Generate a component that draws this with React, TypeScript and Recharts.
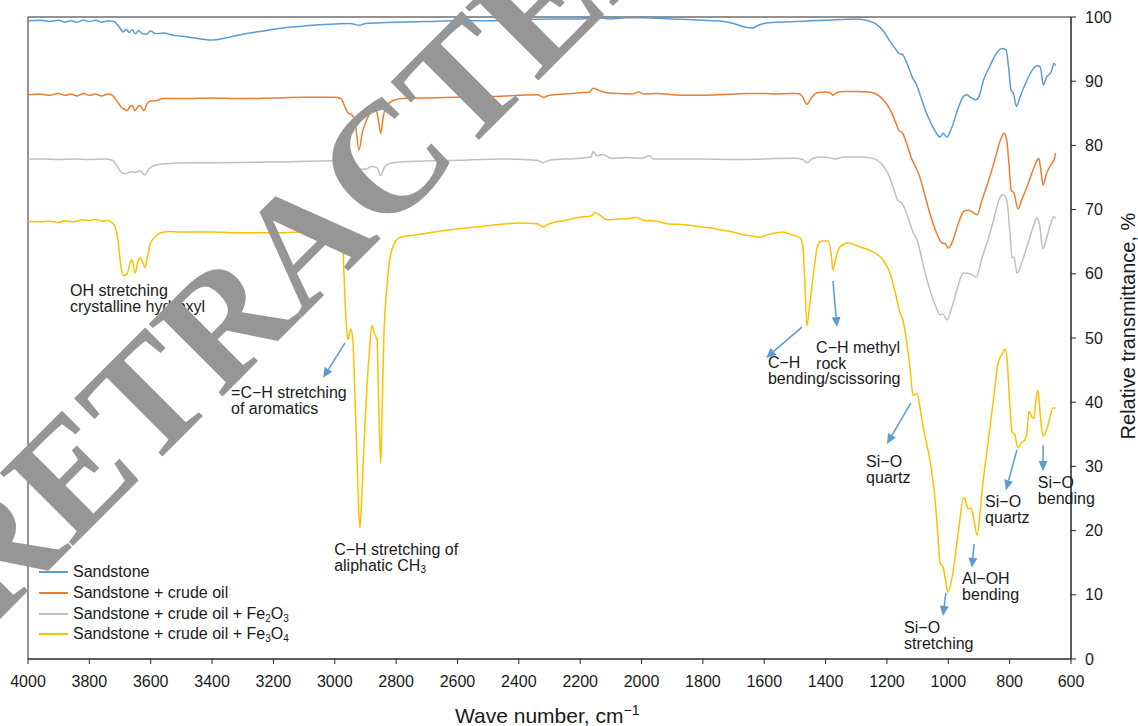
import React from 'react';
import {
  LineChart,
  Line,
  XAxis,
  YAxis,
  ReferenceArea,
  ReferenceLine,
  ReferenceDot,
  Legend
} from 'recharts';

type Pt = [number, number];

const FONT = '"Liberation Sans", Arial, sans-serif';
const INK = '#1a1a1a';
const ARROW = '#5B9BD5';

const xTicks = [4000, 3800, 3600, 3400, 3200, 3000, 2800, 2600, 2400, 2200, 2000, 1800, 1600, 1400, 1200, 1000, 800, 600];
const yTicks = [0, 10, 20, 30, 40, 50, 60, 70, 80, 90, 100];

// wave number (cm-1), relative transmittance (%)
const sandstone: Pt[] = [
  [4000, 99.4], [3960, 99.5], [3930, 99.3], [3900, 99.5], [3880, 99.2], [3860, 99.4], [3840, 99.2],
  [3820, 99.5], [3800, 99.3], [3780, 99.5], [3760, 99.2], [3740, 99.4], [3720, 99.3], [3705, 98.6],
  [3690, 97.7], [3680, 98.1], [3670, 97.6], [3660, 98.0], [3650, 97.4], [3640, 97.9], [3630, 97.5],
  [3615, 97.3], [3600, 97.8], [3585, 97.4], [3560, 97.5], [3520, 97.1], [3480, 96.9], [3440, 96.6],
  [3410, 96.4], [3380, 96.5], [3340, 96.9], [3300, 97.3], [3250, 97.7], [3200, 98.1], [3150, 98.4],
  [3100, 98.6], [3050, 98.8], [3000, 98.9], [2950, 99.0], [2920, 98.7], [2900, 99.0], [2850, 99.1],
  [2800, 99.2], [2700, 99.3], [2600, 99.4], [2500, 99.4], [2400, 99.6], [2300, 99.7], [2200, 99.7],
  [2150, 99.9], [2100, 99.7], [2050, 99.9], [2000, 99.9], [1950, 99.8], [1900, 99.7], [1850, 99.6],
  [1800, 99.5], [1750, 99.4], [1700, 99.0], [1660, 98.4], [1640, 98.3], [1620, 98.7], [1600, 99.0],
  [1550, 99.2], [1500, 99.3], [1450, 99.4], [1400, 99.5], [1350, 99.6], [1300, 99.7], [1260, 99.4],
  [1235, 98.9], [1210, 97.7], [1190, 96.2], [1170, 94.9], [1160, 94.3], [1150, 94.2], [1135, 92.8],
  [1115, 90.4], [1105, 89.6], [1090, 87.6], [1075, 85.5], [1055, 83.3], [1040, 82.0], [1027, 81.3],
  [1017, 81.9], [1005, 81.3], [990, 82.6], [970, 85.5], [955, 87.3], [940, 87.9], [925, 87.4],
  [910, 87.1], [900, 87.6], [885, 90.2], [865, 92.3], [845, 94.2], [825, 95.1], [812, 94.9],
  [803, 92.0], [796, 88.7], [787, 88.0], [778, 86.1], [765, 87.7], [745, 90.0], [725, 91.8],
  [710, 92.4], [700, 92.2], [690, 89.4], [680, 90.6], [665, 91.4], [655, 92.8], [650, 92.4]
];

const crudeOil: Pt[] = [
  [4000, 87.9], [3960, 88.0], [3930, 87.8], [3900, 88.1], [3880, 87.8], [3860, 88.0], [3840, 87.7],
  [3820, 88.1], [3800, 87.8], [3780, 88.0], [3760, 87.7], [3740, 88.0], [3725, 87.8], [3710, 86.9],
  [3695, 85.9], [3685, 85.6], [3677, 85.4], [3668, 86.0], [3660, 86.2], [3651, 85.4], [3642, 86.0],
  [3635, 86.2], [3622, 85.4], [3612, 86.5], [3600, 86.9], [3580, 87.0], [3560, 87.3], [3500, 87.3],
  [3400, 87.4], [3300, 87.3], [3200, 87.4], [3100, 87.5], [3000, 87.5], [2980, 87.3], [2965, 85.8],
  [2955, 85.0], [2945, 84.8], [2935, 84.0], [2921, 79.3], [2910, 82.0], [2900, 83.5], [2885, 85.0],
  [2866, 85.6], [2858, 84.0], [2850, 81.9], [2842, 84.5], [2830, 86.2], [2810, 87.0], [2780, 87.3],
  [2700, 87.4], [2600, 87.5], [2500, 87.6], [2400, 87.8], [2340, 87.9], [2320, 87.5], [2300, 87.8],
  [2250, 88.0], [2200, 88.2], [2170, 88.3], [2158, 88.9], [2140, 88.6], [2115, 88.2], [2080, 88.1],
  [2030, 88.0], [2010, 88.3], [1990, 88.0], [1950, 88.1], [1900, 87.9], [1850, 87.8], [1800, 87.8],
  [1750, 87.9], [1700, 88.0], [1650, 88.1], [1600, 88.1], [1560, 88.0], [1520, 88.1], [1490, 88.1],
  [1475, 87.6], [1461, 86.4], [1445, 87.5], [1428, 88.2], [1400, 88.3], [1385, 88.2], [1376, 87.8],
  [1365, 88.2], [1340, 88.4], [1300, 88.4], [1260, 88.3], [1235, 88.0], [1210, 87.0], [1190, 85.6],
  [1175, 84.0], [1160, 82.3], [1150, 82.0], [1135, 80.2], [1120, 78.0], [1108, 76.8], [1095, 75.4],
  [1075, 72.0], [1055, 68.6], [1035, 66.0], [1020, 64.8], [1010, 64.7], [1000, 64.0], [985, 65.2],
  [965, 68.2], [950, 69.7], [936, 69.9], [920, 69.6], [906, 69.2], [890, 71.5], [870, 74.3],
  [850, 77.5], [830, 80.8], [818, 81.9], [810, 81.0], [802, 77.0], [795, 73.0], [786, 72.6],
  [773, 70.1], [760, 71.6], [740, 74.0], [725, 76.0], [712, 77.5], [705, 78.0], [698, 76.0],
  [691, 73.8], [680, 75.6], [665, 77.0], [655, 77.8], [650, 78.8]
];

const fe2o3: Pt[] = [
  [4000, 77.9], [3950, 77.9], [3900, 77.8], [3850, 77.9], [3800, 77.8], [3750, 77.9], [3725, 77.7],
  [3710, 76.8], [3695, 75.8], [3680, 75.6], [3665, 75.9], [3650, 75.8], [3635, 76.0], [3619, 75.4],
  [3605, 76.4], [3580, 77.0], [3540, 77.2], [3400, 77.3], [3200, 77.4], [3000, 77.6], [2960, 77.5],
  [2935, 76.8], [2920, 76.3], [2900, 76.3], [2880, 76.7], [2862, 76.5], [2850, 75.3], [2838, 76.6],
  [2820, 77.2], [2750, 77.5], [2600, 77.7], [2450, 77.9], [2340, 77.7], [2320, 77.3], [2300, 77.7],
  [2200, 78.0], [2165, 78.2], [2158, 79.0], [2145, 78.4], [2126, 78.6], [2100, 78.0], [2050, 78.1],
  [2000, 78.0], [1975, 78.4], [1960, 77.9], [1900, 77.9], [1800, 77.9], [1700, 77.8], [1600, 77.9],
  [1500, 78.0], [1475, 77.8], [1461, 77.3], [1445, 77.9], [1420, 78.2], [1380, 78.0], [1370, 77.9],
  [1340, 78.2], [1280, 78.2], [1240, 77.9], [1215, 77.0], [1195, 75.5], [1180, 73.5], [1165, 71.5],
  [1151, 71.0], [1135, 69.3], [1115, 66.5], [1100, 65.0], [1080, 61.0], [1060, 57.5], [1040, 54.8],
  [1027, 53.6], [1017, 53.7], [1004, 52.8], [990, 54.5], [970, 57.8], [952, 60.1], [936, 60.1],
  [920, 59.8], [909, 59.5], [890, 62.5], [870, 65.4], [850, 68.8], [835, 71.5], [822, 72.3],
  [810, 71.6], [800, 67.0], [792, 62.5], [786, 62.6], [776, 60.1], [760, 61.8], [740, 64.8],
  [722, 67.5], [711, 68.7], [703, 67.8], [691, 63.9], [680, 65.5], [665, 68.0], [655, 68.9], [650, 68.6]
];

const fe3o4: Pt[] = [
  [4000, 68.2], [3960, 68.1], [3930, 68.2], [3900, 68.0], [3880, 68.3], [3850, 68.1], [3820, 68.4],
  [3800, 68.3], [3780, 68.5], [3760, 68.2], [3740, 68.3], [3725, 67.9], [3716, 67.3], [3707, 65.3],
  [3697, 61.1], [3688, 59.7], [3678, 59.9], [3668, 61.5], [3661, 62.2], [3651, 60.1], [3641, 62.0],
  [3633, 62.5], [3626, 61.8], [3619, 61.0], [3611, 62.5], [3602, 64.6], [3585, 65.8], [3566, 66.4],
  [3540, 66.6], [3500, 66.5], [3400, 66.5], [3300, 66.4], [3200, 66.4], [3100, 66.5], [3000, 66.4],
  [2985, 66.3], [2975, 65.0], [2970, 60.0], [2963, 52.5], [2957, 49.7], [2948, 51.4], [2941, 49.7],
  [2935, 42.0], [2928, 32.0], [2922, 23.5], [2918, 20.4], [2913, 24.0], [2905, 33.0], [2895, 42.4],
  [2887, 48.0], [2879, 51.9], [2869, 50.5], [2862, 49.7], [2857, 40.0], [2850, 30.5], [2846, 38.0],
  [2840, 50.0], [2830, 58.0], [2814, 63.7], [2787, 65.7], [2745, 66.0], [2690, 66.4], [2600, 67.0],
  [2500, 67.5], [2400, 67.9], [2340, 67.8], [2320, 67.3], [2300, 67.8], [2250, 68.3], [2200, 68.8],
  [2165, 69.0], [2152, 69.5], [2135, 69.1], [2113, 68.4], [2080, 68.5], [2040, 68.6], [2020, 68.8],
  [1990, 68.3], [1950, 68.2], [1917, 67.8], [1880, 67.7], [1850, 67.6], [1809, 67.3], [1780, 67.2],
  [1750, 66.9], [1702, 66.5], [1670, 66.1], [1640, 65.9], [1614, 65.7], [1590, 66.1], [1558, 66.4],
  [1542, 66.5], [1506, 66.0], [1483, 65.6], [1474, 64.2], [1467, 58.0], [1461, 51.9], [1451, 55.5],
  [1438, 60.6], [1425, 64.5], [1412, 65.1], [1392, 65.1], [1382, 63.2], [1376, 60.6], [1366, 62.6],
  [1353, 64.2], [1327, 64.8], [1288, 64.2], [1245, 63.4], [1213, 62.2], [1190, 60.1], [1170, 56.5],
  [1157, 53.9], [1148, 52.8], [1136, 49.5], [1125, 45.5], [1115, 41.1], [1102, 41.3], [1090, 38.5],
  [1082, 36.1], [1060, 31.0], [1043, 24.8], [1035, 20.0], [1027, 15.0], [1017, 14.3], [1008, 12.0],
  [1001, 10.4], [985, 13.4], [968, 19.6], [949, 25.2], [940, 24.0], [936, 23.4], [926, 23.5],
  [916, 21.5], [906, 19.3], [895, 23.5], [887, 27.4], [875, 32.0], [864, 36.1], [850, 41.5],
  [838, 46.1], [825, 47.5], [815, 48.3], [808, 46.5], [800, 40.0], [792, 35.4], [783, 34.9],
  [773, 32.9], [760, 33.8], [750, 34.1], [742, 36.0], [737, 38.6], [727, 37.7], [721, 37.5],
  [715, 40.0], [708, 41.9], [700, 38.0], [691, 34.7], [675, 36.4], [659, 39.1], [650, 39.1]
];

// label parts alternate: normal text, subscript, normal text, subscript...
const series = [
  { key: 'sandstone', points: sandstone, color: '#5B9BD5', label: ['Sandstone'] },
  { key: 'crudeOil', points: crudeOil, color: '#ED7D31', label: ['Sandstone + crude oil'] },
  { key: 'fe2o3', points: fe2o3, color: '#BFBFBF', label: ['Sandstone + crude oil + Fe', '2', 'O', '3'] },
  { key: 'fe3o4', points: fe3o4, color: '#FFC000', label: ['Sandstone + crude oil + Fe', '3', 'O', '4'] }
];

// band assignments, anchored at the first line's baseline (left edge)
const notes: { at: Pt; lines: string[] }[] = [
  { at: [3863, 56.5], lines: ['OH stretching', 'crystalline hydroxyl'] },
  { at: [3338, 40.7], lines: ['=C\u2212H stretching', 'of aromatics'] },
  { at: [3002, 16.2], lines: ['C\u2212H stretching of', 'aliphatic CH_3'] },
  { at: [1588, 45.3], lines: ['C\u2212H', 'bending/scissoring'] },
  { at: [1431, 47.7], lines: ['C\u2212H methyl', 'rock'] },
  { at: [1268, 29.9], lines: ['Si\u2212O', 'quartz'] },
  { at: [1144, 4.0], lines: ['Si\u2212O', 'stretching'] },
  { at: [955, 11.7], lines: ['Al\u2212OH', 'bending'] },
  { at: [880, 23.7], lines: ['Si\u2212O', 'quartz'] },
  { at: [708, 26.6], lines: ['Si\u2212O', 'bending'] }
];

// arrows: [tail, head]
const arrows: [Pt, Pt][] = [
  [[2967, 49.2], [3038, 43.8]],
  [[1477, 51.7], [1594, 46.9]],
  [[1376, 58.9], [1363, 51.7]],
  [[1122, 39.9], [1200, 33.5]],
  [[1008, 10.3], [1017, 6.7]],
  [[916, 17.9], [923, 14.2]],
  [[776, 32.6], [812, 26.3]],
  [[691, 33.3], [691, 29.3]]
];

const toRows = (pts: Pt[]) => pts.map(([w, t]) => ({ w, t }));

const ArrowShape = (props: any) => {
  const { x1, y1, x2, y2 } = props;
  const dx = x2 - x1;
  const dy = y2 - y1;
  const len = Math.sqrt(dx * dx + dy * dy) || 1;
  const ux = dx / len;
  const uy = dy / len;
  const head = 10;
  const half = 4.5;
  const bx = x2 - ux * head;
  const by = y2 - uy * head;
  return (
    <g>
      <line x1={x1} y1={y1} x2={bx} y2={by} stroke={ARROW} strokeWidth={1.5} />
      <polygon
        points={`${x2},${y2} ${bx - uy * half},${by + ux * half} ${bx + uy * half},${by - ux * half}`}
        fill={ARROW}
      />
    </g>
  );
};

const renderLine = (line: string, key: number, x: number, dy: number) => {
  const [main, sub] = line.split('_');
  return (
    <tspan key={key} x={x} dy={dy}>
      {main}
      {sub && (
        <tspan fontSize={10} dy={2}>
          {sub}
        </tspan>
      )}
    </tspan>
  );
};

const noteShape = (lines: string[]) => (props: any) => {
  const { cx, cy } = props;
  return (
    <text x={cx} y={cy} fontFamily={FONT} fontSize={16} fill={INK}>
      {lines.map((l, i) => renderLine(l, i, cx, i === 0 ? 0 : 16))}
    </text>
  );
};

const LegendBox = () => (
  <div style={{ fontFamily: FONT, fontSize: 16, color: INK }}>
    {series.map((s) => (
      <div key={s.key} style={{ display: 'flex', alignItems: 'center', height: 20.7, whiteSpace: 'nowrap' }}>
        <span style={{ display: 'inline-block', width: 29, height: 2, background: s.color, marginRight: 5 }} />
        <span>
          {s.label.map((p, i) =>
            i % 2 ? (
              <span key={i} style={{ fontSize: 10, position: 'relative', top: 3 }}>
                {p}
              </span>
            ) : (
              <span key={i}>{p}</span>
            )
          )}
        </span>
      </div>
    ))}
  </div>
);

export default function App() {
  return (
    <div style={{ position: 'absolute', left: 0, top: 0, width: 1138, height: 726, background: '#fff', overflow: 'hidden' }}>
      <LineChart width={1138} height={726} margin={{ top: 17, right: 17, bottom: 27, left: 28 }}>
        <XAxis
          type="number"
          dataKey="w"
          domain={[600, 4000]}
          reversed
          ticks={xTicks}
          interval={0}
          height={40}
          tickSize={5}
          tickMargin={12}
          stroke="#262626"
          tick={{ fontSize: 16, fill: INK, fontFamily: FONT }}
        />
        <YAxis
          type="number"
          orientation="right"
          domain={[0, 100]}
          ticks={yTicks}
          interval={0}
          width={50}
          tickSize={5}
          tickMargin={9}
          stroke="#262626"
          tick={{ fontSize: 16, fill: INK, fontFamily: FONT }}
        />
        <ReferenceArea x1={600} x2={4000} y1={0} y2={100} fill="none" stroke="#262626" strokeWidth={1} />
        {series.map((s) => (
          <Line
            key={s.key}
            data={toRows(s.points)}
            dataKey="t"
            type="monotone"
            stroke={s.color}
            strokeWidth={1.5}
            dot={false}
            activeDot={false}
            isAnimationActive={false}
          />
        ))}
        {arrows.map(([a, b], i) => (
          <ReferenceLine
            key={`arrow-${i}`}
            segment={[{ x: a[0], y: a[1] }, { x: b[0], y: b[1] }]}
            shape={ArrowShape}
          />
        ))}
        {notes.map((n, i) => (
          <ReferenceDot key={`note-${i}`} x={n.at[0]} y={n.at[1]} r={0} shape={noteShape(n.lines)} />
        ))}
        <Legend
          layout="vertical"
          align="center"
          verticalAlign="middle"
          wrapperStyle={{ left: 39, top: 562, width: 'auto' }}
          content={() => <LegendBox />}
        />
      </LineChart>
      <svg width={1138} height={726} style={{ position: 'absolute', left: 0, top: 0, pointerEvents: 'none' }}>
        <text x={455} y={723} fontFamily={FONT} fontSize={21} fill={INK}>
          Wave number, cm
          <tspan fontSize={14} dy={-8}>
            {'\u22121'}
          </tspan>
        </text>
        <text
          x={1135}
          y={326}
          transform="rotate(-90 1135 326)"
          textAnchor="middle"
          fontFamily={FONT}
          fontSize={20}
          fill={INK}
        >
          Relative transmittance, %
        </text>
        <text
          x={341}
          y={278}
          transform="rotate(-45 341 278)"
          textAnchor="middle"
          fontFamily='"Liberation Serif", "Times New Roman", serif'
          fontWeight="bold"
          fontSize={158}
          fill="#969696"
        >
          RETRACTED
        </text>
      </svg>
    </div>
  );
}
